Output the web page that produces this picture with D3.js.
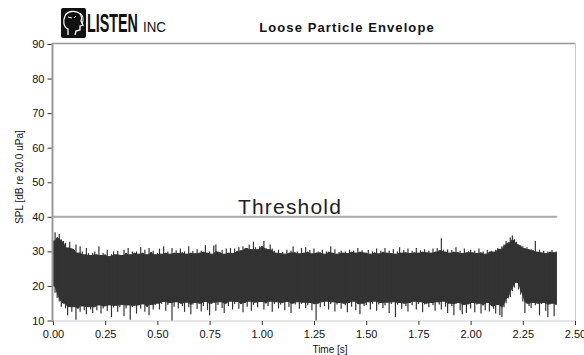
<!DOCTYPE html>
<html><head><meta charset="utf-8">
<script src="https://cdn.jsdelivr.net/npm/d3@7"></script>
<style>body{margin:0;background:#fff}svg{display:block}</style>
</head><body>
<svg id="c" width="584" height="355"></svg>
<script>
const title = "Loose Particle Envelope";
const xLabel = "Time [s]";
const yLabel = "SPL [dB re 20.0 uPa]";
const xTicks = [0, 0.25, 0.5, 0.75, 1.0, 1.25, 1.5, 1.75, 2.0, 2.25, 2.5];
const yTicks = [10, 20, 30, 40, 50, 60, 70, 80, 90];
const threshold = 40;
const thresholdLabel = "Threshold";
const sampleStep = 0.01; // s between envelope samples
const upper = [
33,35.5,34,35,33.5, 33,32.5,31,32.8,31,
30.5,32,29.5,31.5,30,29,31,29.5,28.8,29.5,
30,29,31.5,28.8,29.5,29,30.5,28.5,29.2,30,
29,30.2,29,28.8,30.5,29.5,31,29,30,29.5,
30,29.2,31.2,29.5,30.5,29,31,29.8,30.2,29,
29.5,30.8,29.2,31.5,29.5,30,29.2,31,29.5,30.3,
29.4,30.8,29.6,30,29.2,31.5,29.5,30.2,29.3,30.6,
29.5,30.2,29.8,31.8,29.5,30,29.2,31.7,32,30,
29.6,30.4,29.2,30.8,29.5,31,29.4,30.8,30,31.2,
30.2,31.5,30.8,31,32,30.5,32.8,31.2,30.5,31.5,
31.5,33,31,30.5,32,30.8,30.2,29.5,30.5,29.4,
29.8,29.2,30.5,29.5,30.2,31.5,29.6,30,29.3,31,
29.5,31.2,29.8,30.4,29.3,30.8,29.5,30,29.6,30.5,
29.2,30,29.8,31.5,29.5,30.6,29.2,29.8,30.2,29.5,
30,29.4,30.5,29.8,30.2,29.5,31,29.8,30.3,29.6,
29.5,30.4,29.2,30,29.6,30.8,29.3,30.2,29.8,31,
29.5,30.2,29.4,30.6,29.2,30,31.2,29.5,30.4,29.6,
30.8,29.4,30.2,29.6,31,29.5,30.3,29.8,30.6,29.6,
30.2,29.5,30.8,29.8,31,30.2,33.8,30.5,29.8,30.6,
29.5,30.4,29.8,31.2,29.6,30.2,29.4,30.8,29.6,30,
30.5,29.6,30.2,29.4,30.8,29.6,30,29.2,30.4,29.8,
30.2,29.8,30.5,31,30.6,31.5,32,33,32.5,34,
34.6,33.5,32.8,32,31.8,31.5,30.8,31.2,30.5,30.6,
30.2,33,29.8,30.5,29.6,30.2,29.4,30,29.8,30.4,
29.6,30
];
const lower = [
20,18,16.5,15.5,14,15,13.5,11.5,14,12.5,
14,10.2,13.5,12.5,14.2,13,11.8,14,13.2,12.2,
14,13,14.5,12,13.5,14.2,12.8,14.5,11,13.8,
14.4,12.5,13.8,14.6,11.2,13.5,14.5,10.2,13.8,14.4,
12,14.5,13.5,14.8,12.5,14,11.5,14.6,13.2,14.5,
15,13.2,14.8,15.5,12.8,14.5,15.2,10,14,15.4,
13.5,15,14.2,12.5,15.3,13.8,11.8,14.6,15.2,13.4,
15,12.6,14.2,15.5,13,11.5,14.8,15.3,12.8,14.5,
15.4,13.6,12.2,15,14.2,15.6,13.2,14.8,15.5,13.4,
14.8,12.4,15.2,14,15.6,12.8,14.5,15.3,13.8,15.4,
15.5,13.2,15,14.2,15.6,12.5,14.8,15.4,13.5,14.6,
15.2,13,15.5,14,12.2,15,14.6,15.4,13.4,14.8,
15.3,13.6,14.4,15.2,13,14.8,10,15,13.8,15.4,
14.2,15.6,13.2,14.8,15.4,12.6,14.6,15.2,13.4,15,
14.4,12.4,15.2,14,15.6,13,14.8,11.8,15,14.2,
14.5,15.4,13.2,14.8,15.6,12.8,14.6,15.2,13.6,14.4,
15.3,12.2,14.8,15.4,11,14.6,15.2,13.4,15,14.2,
12.6,15.2,14.4,15.6,13.2,14.8,15.4,12.4,14.6,15,
13.8,15.2,14.4,12.8,15.4,14.6,13.2,15.6,14,12.2,
15,14.2,11.5,14.8,15.2,13,11.8,14.6,12.2,14.8,
13.5,15.2,12.4,14.6,15,12,14.4,13,15.2,12.6,
14.2,13.4,12,14.6,11.5,11,13.8,15,16.4,16.8,
18.5,19.5,21,19,17.5,15.5,12.2,15,14.2,13.6,
15.2,14.4,15,11.5,14.8,15.2,12.8,11,14.6,15,
11.2,14.6
];

const svg = d3.select("#c");
const x = d3.scaleLinear().domain([0, 2.5]).range([53, 575]);
const y = d3.scaleLinear().domain([10, 90]).range([320.5, 44]);
const font = "'Liberation Sans', Arial, sans-serif";

// frame
svg.append("line").attr("x1",52).attr("x2",575.5).attr("y1",43.5).attr("y2",43.5).attr("stroke","#999").attr("stroke-width",1.5);
svg.append("line").attr("x1",575.5).attr("x2",575.5).attr("y1",43).attr("y2",321).attr("stroke","#ccc").attr("stroke-width",1);
svg.append("line").attr("x1",52).attr("x2",576).attr("y1",321).attr("y2",321).attr("stroke","#ccc").attr("stroke-width",1);

// signal envelope: dense core (neighbour-limited) + individual spikes
const data = upper.map((u,i)=>({t:i*sampleStep, hi:u, lo:lower[i]}));
const n = data.length;
const core = data.map((d,i)=>{
  const a = data[Math.max(0,i-1)], b = data[Math.min(n-1,i+1)];
  return {t:d.t, hi:Math.min(a.hi,d.hi,b.hi), lo:Math.max(a.lo,d.lo,b.lo)};
});
const area = d3.area().x(d=>x(d.t)).y0(d=>y(d.lo)).y1(d=>y(d.hi)).curve(d3.curveLinear);
svg.append("path").datum(core).attr("d",area).attr("fill","#333").attr("stroke","#333").attr("stroke-width",1);
svg.append("g").selectAll("line").data(data).join("line")
  .attr("x1",d=>x(d.t)).attr("x2",d=>x(d.t))
  .attr("y1",d=>y(d.lo)).attr("y2",d=>y(d.hi))
  .attr("stroke","#333").attr("stroke-width",1.2);

// threshold
svg.append("line").attr("x1",x(0)).attr("x2",x(2.41)+1).attr("y1",y(threshold)).attr("y2",y(threshold)).attr("stroke","#aaa").attr("stroke-width",2);
svg.append("text").attr("x",290).attr("y",y(threshold)-3).attr("text-anchor","middle")
  .attr("font-family",font).attr("font-size",21).attr("letter-spacing",1.2).attr("fill","#222").text(thresholdLabel);

// axes
const yAxis = svg.append("g").attr("transform","translate(52.5,0)")
  .call(d3.axisLeft(y).tickValues(yTicks).tickSize(5).tickPadding(3).tickFormat(d3.format("d")));
const xAxis = svg.append("g").attr("transform","translate(0,321)")
  .call(d3.axisBottom(x).tickValues(xTicks).tickSize(4).tickPadding(5).tickFormat(d3.format(".2f")));
[yAxis,xAxis].forEach(g=>{
  g.select(".domain").remove();
  g.selectAll(".tick line").attr("stroke","#333");
  g.selectAll(".tick text").attr("font-family",font).attr("font-size",11).attr("fill","#111");
});
svg.append("line").attr("x1",52.5).attr("x2",52.5).attr("y1",43).attr("y2",322).attr("stroke","#999").attr("stroke-width",2);

// labels
svg.append("text").attr("x",330).attr("y",353).attr("text-anchor","middle")
  .attr("font-family",font).attr("font-size",10).attr("fill","#111").text(xLabel);
svg.append("text").attr("transform","translate(23,177) rotate(-90)").attr("text-anchor","middle")
  .attr("font-family",font).attr("font-size",10).attr("fill","#111").text(yLabel);
svg.append("text").attr("x",347).attr("y",32).attr("text-anchor","middle")
  .attr("font-family",font).attr("font-size",13).attr("font-weight","bold").attr("letter-spacing",1.1).attr("fill","#111").text(title);

// logo
const logo = svg.append("g");
logo.append("rect").attr("x",61).attr("y",8).attr("width",25).attr("height",30).attr("rx",2).attr("fill","#111");
logo.append("path").attr("d","M68,35 L68,29 C63,27 63,20 65,16 C67,11 75,10 79,13 C82,15 82,19 81,21 L83,25 L80,26 L80,30 L76,31 L75,35")
  .attr("fill","none").attr("stroke","#fff").attr("stroke-width",1.3);
logo.append("path").attr("d","M68,17 L72,18 M74,18 L76,16").attr("stroke","#fff").attr("stroke-width",1);
logo.append("path").attr("d","M80,13 C83,15 84,19 82,24").attr("fill","none").attr("stroke","#fff").attr("stroke-width",1);
const logoFont = "'Liberation Sans Narrow', 'Liberation Sans', Arial, sans-serif";
function fitText(txt, x0, base, size, weight, width){
  const t = logo.append("text").attr("font-family",logoFont).attr("font-size",size)
    .attr("font-weight",weight).attr("fill","#111").text(txt);
  const w = t.node().getComputedTextLength();
  t.attr("transform",`translate(${x0},${base}) scale(${width/w},1)`);
}
fitText("LISTEN", 87, 31.5, 26, "bold", 51);
fitText("INC", 143, 31.5, 15, "normal", 23);
</script>
</body></html>
